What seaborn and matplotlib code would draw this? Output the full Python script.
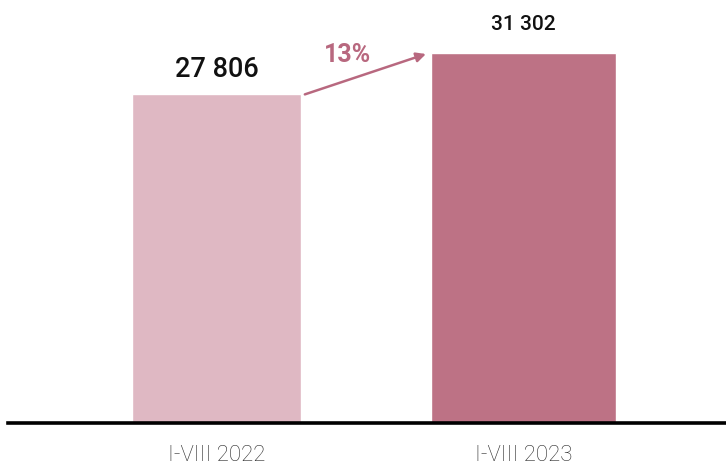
import matplotlib
matplotlib.use("Agg")
import matplotlib.pyplot as plt
import seaborn as sns
import pandas as pd

# data
periods = ["I-VIII 2022", "I-VIII 2023"]
values = [27806, 31302]
value_labels = ["27 806", "31 302"]
growth_label = "13%"
bar_colors = ["#dfb8c3", "#bd7285"]
bar_widths = [0.55, 0.605]

sns.set_theme(style="white")
plt.rcParams['font.family'] = ['Roboto', 'DejaVu Sans']

df = pd.DataFrame({"period": periods, "value": values})

fig = plt.figure(figsize=(7.26, 4.66), dpi=100)
ax = fig.add_axes([0.011, 0.092, 0.989, 0.908])

sns.barplot(data=df, x="period", y="value", hue="period", palette=bar_colors,
            legend=False, ax=ax, width=0.58, saturation=1)

# the two bars are not quite the same width in the original
for patch, w in zip(ax.patches, bar_widths):
    cx = patch.get_x() + patch.get_width() / 2
    patch.set_width(w)
    patch.set_x(cx - w / 2)

ax.set_xlim(-0.679, 1.66)
ax.set_ylim(0, 35790)

# value labels
ax.text(0, values[0] + 950, value_labels[0], ha="center", va="bottom",
        fontsize=19.5, fontweight="medium", color="#111111")
ax.text(1, values[1] + 1600, value_labels[1], ha="center", va="bottom",
        fontsize=15, fontweight="medium", color="#111111")

# growth arrow
x0 = bar_widths[0] / 2 + 0.013
x1 = 1 - bar_widths[1] / 2 - 0.015
ax.annotate("", xy=(x1, values[1] - 80), xytext=(x0, values[0]),
            arrowprops=dict(arrowstyle="-|>", color="#b8687f", lw=1.8,
                            mutation_scale=14, shrinkA=0, shrinkB=0))
ax.text(0.426, values[1] - 1150, growth_label, ha="center", va="bottom",
        fontsize=18, fontweight="bold", color="#b8687f")

ax.set_xlabel("")
ax.set_ylabel("")
ax.set_yticks([])
ax.tick_params(axis="x", length=0, pad=16, labelsize=16, labelcolor="#2a2a2a")
for lab in ax.get_xticklabels():
    lab.set_fontweight("light")

for side in ["top", "right", "left"]:
    ax.spines[side].set_visible(False)
ax.spines["bottom"].set_linewidth(2.6)
ax.spines["bottom"].set_color("#000000")

fig.savefig("out.png", dpi=100)
